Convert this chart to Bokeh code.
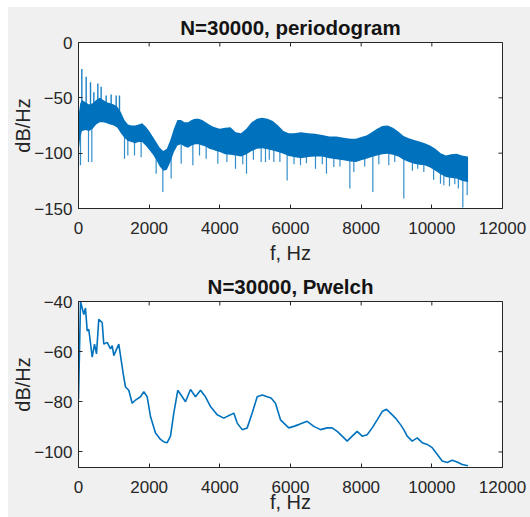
import numpy as np
from bokeh.plotting import figure
from bokeh.layouts import column
from bokeh.models import Range1d, FixedTicker
from bokeh.embed import file_html
from bokeh.resources import INLINE

# ---------------- data ----------------
x_ticks = [0, 2000, 4000, 6000, 8000, 10000, 12000]
y1_ticks = [-150, -100, -50, 0]
y2_ticks = [-100, -80, -60, -40]

# periodogram: dense noise band (upper / lower edge) + isolated spikes
band_f = [0, 50, 100, 200, 300, 400, 500, 600, 700, 800, 900, 1000, 1100, 1200,
          1300, 1400, 1500, 1600, 1700, 1800, 1900, 2000, 2100, 2200, 2300, 2400,
          2500, 2600, 2700, 2800, 2900, 3000, 3100, 3200, 3300, 3400, 3500, 3600,
          3700, 3800, 3900, 4000, 4150, 4300, 4450, 4600, 4750, 4900, 5050, 5200,
          5350, 5500, 5650, 5800, 5950, 6100, 6300, 6500, 6700, 6900, 7100, 7300,
          7500, 7700, 7850, 8000, 8150, 8300, 8450, 8600, 8750, 8900, 9050, 9200,
          9350, 9500, 9650, 9800, 9950, 10100, 10250, 10400, 10550, 10700, 10850,
          11000, 11025]
band_top = [-66, -55, -52, -54, -56, -55, -52, -50, -52, -54, -55, -56, -58, -63,
            -70, -74, -75, -75, -74, -73, -76, -80, -85, -90, -95, -98,
            -96, -88, -78, -70, -70, -72, -72, -70, -69, -69, -70, -72,
            -74, -76, -77, -78, -77, -76.5, -81, -82, -78, -72, -69, -68,
            -69, -71, -75, -80, -82, -82, -81, -82, -82.5, -83.5, -85, -85,
            -86, -87, -87, -85.5, -84, -81, -78, -75.5, -75, -77, -80.5, -84.5,
            -86.5, -88, -89.5, -91, -93, -96, -100, -102, -101, -100.5, -102,
            -103, -103]
band_bot = [-100, -85, -80, -79, -80, -78, -74, -72, -72, -73, -74, -75, -77, -82,
            -86, -89, -90, -91, -90, -90, -93, -97, -101, -106, -112, -116,
            -115, -108, -99, -93, -92, -94, -95, -93, -92, -92, -93, -94,
            -96, -97, -98, -99, -101, -101.5, -102, -103, -101, -98, -96, -95.5,
            -96.5, -97.5, -99, -100.5, -102.5, -103.5, -104.5, -103.5, -103, -103, -104.5, -105.5,
            -106.5, -107.5, -108, -106.5, -105, -103.5, -102, -101, -100.5, -101.5, -103, -106,
            -108, -109.5, -110.5, -111, -113, -116, -119, -121.5, -122.5, -123, -125,
            -126, -126]
down_f = [0, 57, 283, 377, 1302, 1396, 1585, 1773, 2198, 2387, 2622, 2906, 3236,
          3425, 3613, 3943, 4200, 4443, 4650, 4755, 4950, 5170, 5292, 5400, 5528,
          5700, 5905, 6100, 6283, 6450, 6707, 6900, 7018, 7226, 7400, 7680, 7792,
          8100, 8330, 8500, 8782, 8950, 9207, 9450, 9600, 9773, 10050, 10245,
          10339, 10500, 10650, 10750, 10877, 11000]
down_v = [-112, -111, -108, -108, -105, -102, -102, -103.6, -118.6, -135, -123,
          -109.6, -111, -102, -105, -109.6, -108, -114, -110, -118.6, -106, -108,
          -108, -106, -108, -108, -124.7, -110, -111, -109, -114, -110, -118.6,
          -112.6, -112, -132, -117, -112, -135, -110, -111, -108, -141, -116,
          -114, -117, -124, -127.6, -129, -130, -128, -132, -149, -138]
up_f = [94, 217, 340, 434, 547, 641, 783, 924, 1066, 1160]
up_v = [-24, -31, -36, -45, -37, -40, -48, -47, -48, -48]

# Pwelch estimate
welch_f = [0, 57, 150, 198, 246, 291, 388, 453, 509, 574, 671, 716, 812, 906, 954,
           999, 1140, 1189, 1265, 1330, 1423, 1520, 1613, 1755, 1848, 1944, 2038,
           2179, 2321, 2420, 2510, 2604, 2697, 2810, 2935, 3028, 3170, 3311, 3453,
           3594, 3736, 3925, 4112, 4302, 4395, 4491, 4633, 4774, 4916, 5057, 5199,
           5340, 5450, 5575, 5717, 5951, 6093, 6234, 6472, 6659, 6849, 7038, 7180,
           7321, 7463, 7604, 7746, 7887, 8029, 8170, 8312, 8453, 8595, 8716, 8830,
           8971, 9113, 9206, 9302, 9444, 9585, 9727, 9868, 10010, 10151, 10293,
           10434, 10576, 10717, 10859, 11025]
welch_v = [-79, -40, -45.2, -42.6, -51.7, -51.1, -62.2, -57, -60.9, -47.1, -48.5,
           -57, -56.3, -58.9, -57.6, -61.6, -57, -61.6, -68.8, -74.1, -75.4, -80.6,
           -79.3, -78, -76, -78, -85.9, -92.4, -95, -96, -96.3, -93.7, -84.5, -75.4,
           -78, -80, -75.1, -78, -75.4, -78, -81.9, -85.2, -86.5, -85.2, -84.5,
           -88.5, -91.1, -90.4, -84.5, -78, -77.3, -78, -78.5, -80.6, -87.2, -90.4,
           -89.8, -89.1, -87.8, -89.8, -91.1, -90.4, -90.4, -91.8, -93.7, -95.7,
           -93.7, -91.8, -93.7, -93.1, -90.4, -87.2, -83.9, -83, -84.5, -86.5,
           -89.1, -91.1, -93.7, -95.7, -94.4, -96.3, -97, -98.3, -100.9, -103.6,
           -104.2, -103.3, -104, -105, -105.5]

# ---------------- styling ----------------
FONT = "Liberation Sans"
BLUE = "#0072BD"
AX = "#262626"
FIG_BG = "#f0f0f0"


def lab(v):
    return str(v).replace("-", "\u2212")


def make_fig(height, border_top, border_bottom, yr, yt, title, xlabel_standoff):
    p = figure(width=522, height=height, x_range=Range1d(0, 12000),
               y_range=Range1d(*yr), output_backend="svg", toolbar_location=None,
               min_border_left=70, min_border_right=28,
               min_border_top=border_top, min_border_bottom=border_bottom,
               background_fill_color="white", border_fill_color=FIG_BG)
    p.outline_line_color = AX
    p.outline_line_width = 1
    p.outline_line_alpha = 1
    p.grid.visible = False

    p.title.text = title
    p.title.align = "center"
    p.title.text_font = FONT
    p.title.text_font_size = "20.5px"
    p.title.text_font_style = "bold"
    p.title.text_color = "#141414"
    p.title.standoff = 8

    xa, ya = p.xaxis[0], p.yaxis[0]
    for ax in (xa, ya):
        ax.major_tick_in = 4
        ax.major_tick_out = 0
        ax.minor_tick_line_color = None
        ax.axis_line_color = AX
        ax.major_tick_line_color = AX
        ax.major_label_text_font = FONT
        ax.major_label_text_font_size = "17px"
        ax.major_label_text_color = AX
        ax.axis_label_text_font = FONT
        ax.axis_label_text_font_size = "20px"
        ax.axis_label_text_font_style = "normal"
        ax.axis_label_text_color = AX
    xa.ticker = FixedTicker(ticks=x_ticks)
    xa.major_label_overrides = {t: lab(t) for t in x_ticks}
    xa.major_label_standoff = 13
    xa.axis_label = "f, Hz"
    xa.axis_label_standoff = xlabel_standoff
    ya.ticker = FixedTicker(ticks=yt)
    ya.major_label_overrides = {t: lab(t) for t in yt}
    ya.major_label_standoff = 6
    ya.axis_label = "dB/Hz"
    ya.axis_label_standoff = -3

    # inward tick marks on the top and right edges of the box
    ytop = [p.y_range.end] * len(x_ticks)
    p.scatter(x=x_ticks, y=ytop, marker="dash", angle=np.pi / 2, size=8,
              line_color=AX, line_width=1)
    xright = [p.x_range.end] * len(yt)
    p.scatter(x=xright, y=yt, marker="dash", size=8, line_color=AX, line_width=1)
    return p


# ---- top: periodogram
p1 = make_fig(261, 35, 60, (-150, 0), y1_ticks, "N=30000, periodogram", 5)
p1.varea(x=band_f, y1=band_bot, y2=band_top, fill_color=BLUE, fill_alpha=1)
d_base = np.interp(down_f, band_f, band_bot) + 2
p1.segment(x0=down_f, y0=d_base, x1=down_f, y1=down_v, line_color=BLUE,
           line_width=1.2, line_alpha=0.8)
u_base = np.interp(up_f, band_f, band_top) - 2
p1.segment(x0=up_f, y0=u_base, x1=up_f, y1=up_v, line_color=BLUE,
           line_width=1.4, line_alpha=0.9)

# ---- bottom: Pwelch
p2 = make_fig(249, 32, 50, (-106.2, -40), y2_ticks, "N=30000, Pwelch", -5)
p2.line(x=welch_f, y=welch_v, line_color=BLUE, line_width=1.6)

layout = column(p1, p2, spacing=0, margin=(7, 0, 0, 8),
                styles={"background-color": FIG_BG})

open("out.html", "w").write(file_html(layout, INLINE))
